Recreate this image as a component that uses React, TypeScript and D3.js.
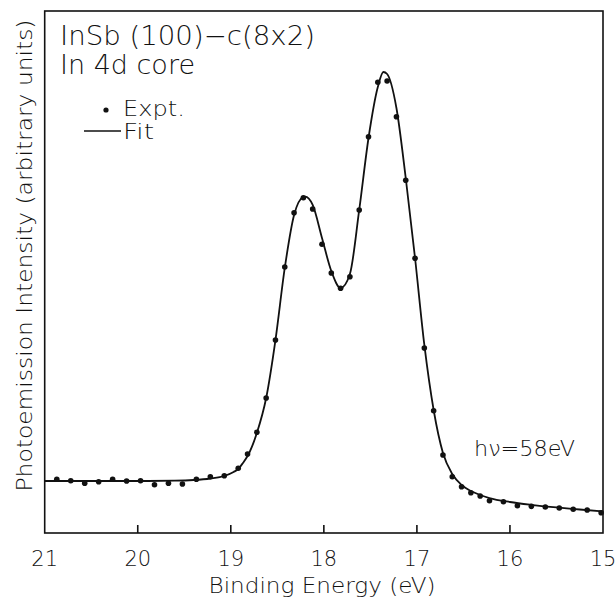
import React from "react";
import * as d3 from "d3";

// ---- data ----
const exptEnergy = [
  20.87, 20.72, 20.57, 20.42, 20.27, 20.12, 19.97, 19.82, 19.67, 19.52, 19.37, 19.22, 19.07, 18.92,
  18.82, 18.72, 18.62, 18.52, 18.42, 18.32, 18.22, 18.12, 18.02, 17.92, 17.82, 17.72, 17.62, 17.52,
  17.42, 17.32, 17.22, 17.12, 17.02, 16.92, 16.82, 16.72, 16.62, 16.52, 16.42, 16.32, 16.22,
  16.07, 15.92, 15.77, 15.62, 15.47, 15.32, 15.17, 15.02,
];
const exptIntensity = [
  10.29, 10.02, 9.52, 9.83, 10.29, 9.96, 10.02, 9.25, 9.52, 9.39, 10.29, 10.79, 10.96, 12.39,
  15.13, 19.29, 25.86, 36.97, 50.96, 61.36, 64.23, 62.07, 55.31, 49.81, 46.88, 49.1, 61.88, 75.92,
  86.34, 86.59, 79.75, 67.57, 52.62, 35.44, 23.43, 14.94, 10.79, 8.87, 7.72, 7.09, 6.19,
  6.0, 5.23, 5.11, 4.98, 4.79, 4.54, 4.41, 3.89,
];
const fitEnergy = [
  21.0, 20.5, 20.0, 19.6, 19.4, 19.22, 19.07, 18.97, 18.92, 18.87, 18.82, 18.72, 18.62, 18.52,
  18.42, 18.32, 18.22, 18.2, 18.12, 18.02, 17.92, 17.82, 17.72, 17.62, 17.52, 17.42, 17.36, 17.32,
  17.22, 17.12, 17.02, 16.92, 16.82, 16.72, 16.62, 16.52, 16.42, 16.32, 16.22, 16.0, 15.75, 15.5,
  15.25, 15.0,
];
const fitIntensity = [
  9.96, 9.96, 9.96, 10.02, 10.15, 10.44, 10.92, 11.69, 12.26, 13.41, 14.75, 19.16, 25.86, 36.97,
  50.77, 60.92, 64.37, 64.43, 62.84, 56.51, 50.19, 46.93, 49.62, 61.88, 75.67, 85.44, 88.31, 87.93,
  81.42, 68.01, 52.68, 36.02, 23.56, 15.33, 11.3, 9.2, 8.05, 7.28, 6.7, 5.94, 5.36, 4.89,
  4.5, 4.12,
];
const xTickValues = [20, 19, 18, 17, 16];
const xLabelValues = [21, 20, 19, 18, 17, 16, 15];
const titleLines = ["InSb (100)\u2212c(8x2)", "In 4d core"];
const legendLabels = ["Expt.", "Fit"];
const photonLabel = "h\u03bd=58eV";
const xAxisTitle = "Binding Energy (eV)";
const yAxisTitle = "Photoemission Intensity (arbitrary units)";

const W = 616;
const H = 599;
const FONT = "'DejaVu Sans', sans-serif";

export default function App() {
  const left = 44.7, right = 603, top = 11, bottom = 533;
  const x = d3.scaleLinear().domain([21, 15]).range([left, right]);
  const y = d3.scaleLinear().domain([0, 100]).range([bottom, top]);

  const fitPts: [number, number][] = fitEnergy.map((e, i) => [e, fitIntensity[i]]);
  const line = d3
    .line<[number, number]>()
    .x((d) => x(d[0]))
    .y((d) => y(d[1]))
    .curve(d3.curveMonotoneX);

  return (
    <svg
      width={W}
      height={H}
      style={{ position: "absolute", left: 0, top: 0, background: "#fff" }}
      fontFamily={FONT}
      fontWeight={300}
    >
      <rect x={0} y={0} width={W} height={H} fill="#fff" />
      {/* frame */}
      <rect x={left} y={top} width={right - left} height={bottom - top} fill="none" stroke="#111" strokeWidth={1.6} />
      {/* ticks */}
      {xTickValues.map((v) => (
        <line key={v} x1={x(v)} x2={x(v)} y1={bottom} y2={bottom - 8} stroke="#111" strokeWidth={1.6} />
      ))}
      {xLabelValues.map((v) => (
        <text key={v} x={x(v)} y={566} textAnchor="middle" fontSize={21} fill="#111">
          {String(v)}
        </text>
      ))}
      <text x={322} y={593} textAnchor="middle" fontSize={22} fill="#111" textLength={227} lengthAdjust="spacingAndGlyphs">
        {xAxisTitle}
      </text>
      <text
        transform="translate(32,255.5) rotate(-90)"
        textAnchor="middle"
        fontSize={22}
        fill="#111"
        textLength={472}
        lengthAdjust="spacingAndGlyphs"
      >
        {yAxisTitle}
      </text>

      {/* fit curve */}
      <path d={line(fitPts) || ""} fill="none" stroke="#111" strokeWidth={1.8} />
      {/* experimental points */}
      {exptEnergy.map((e, i) => (
        <circle key={i} cx={x(e)} cy={y(exptIntensity[i])} r={2.8} fill="#111" />
      ))}

      {/* title */}
      <text x={60} y={45} fontSize={26} fill="#111" textLength={255} lengthAdjust="spacingAndGlyphs">
        {titleLines[0]}
      </text>
      <text x={60} y={74} fontSize={26} fill="#111" textLength={135} lengthAdjust="spacingAndGlyphs">
        {titleLines[1]}
      </text>
      {/* legend */}
      <circle cx={106} cy={110} r={2.6} fill="#111" />
      <text x={123} y={116} fontSize={22} fill="#111" textLength={62} lengthAdjust="spacingAndGlyphs">
        {legendLabels[0]}
      </text>
      <line x1={84} x2={121} y1={131} y2={131} stroke="#111" strokeWidth={1.6} />
      <text x={123} y={139} fontSize={22} fill="#111" textLength={31} lengthAdjust="spacingAndGlyphs">
        {legendLabels[1]}
      </text>
      {/* photon energy */}
      <text x={474} y={456} fontSize={22} fill="#111" textLength={101} lengthAdjust="spacingAndGlyphs">
        {photonLabel}
      </text>
    </svg>
  );
}
